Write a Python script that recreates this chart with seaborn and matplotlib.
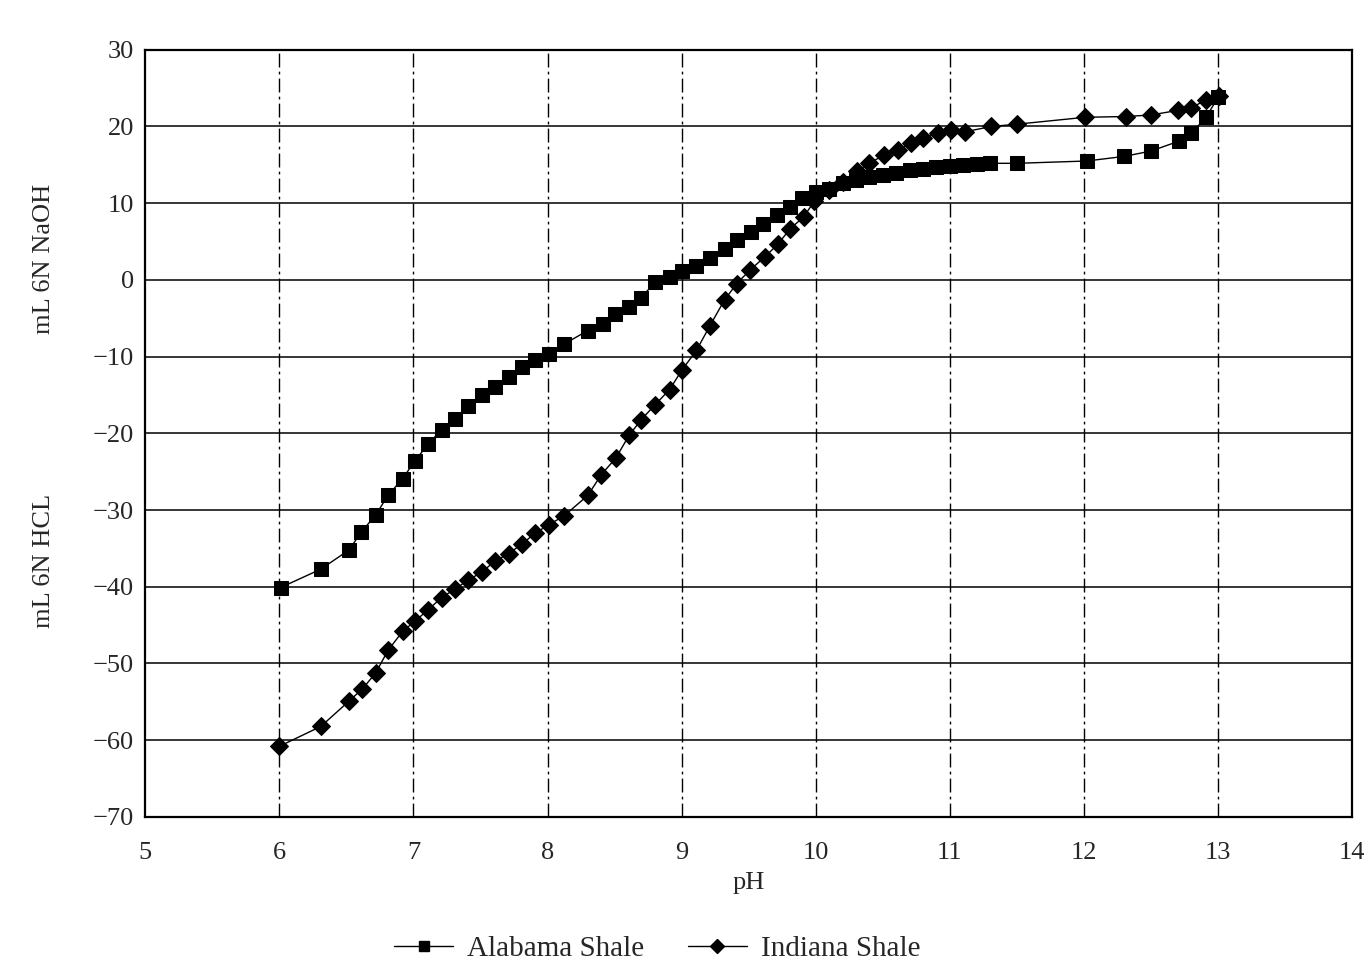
import matplotlib
matplotlib.use("Agg")
import matplotlib.pyplot as plt
import seaborn as sns
import pandas as pd
from matplotlib.lines import Line2D

sns.set_style("white")
plt.rcParams['font.family'] = ['Liberation Serif', 'DejaVu Serif']
plt.rcParams['axes.unicode_minus'] = True

# Alabama Shale titration (pH vs mL)
alabama_ph = [6.01, 6.31, 6.52, 6.61, 6.72, 6.81, 6.92, 7.01, 7.11, 7.21, 7.31,
              7.41, 7.51, 7.61, 7.71, 7.81, 7.91, 8.01, 8.12, 8.30, 8.41, 8.50,
              8.61, 8.70, 8.80, 8.91, 9.00, 9.11, 9.21, 9.32, 9.41, 9.52, 9.61,
              9.71, 9.81, 9.90, 10.00, 10.10, 10.20, 10.30, 10.40, 10.50, 10.60,
              10.70, 10.80, 10.90, 11.00, 11.10, 11.20, 11.30, 11.50, 12.02,
              12.30, 12.50, 12.71, 12.80, 12.91, 13.00]
alabama_ml = [-40.1, -37.7, -35.2, -32.9, -30.6, -28.1, -25.9, -23.6, -21.4, -19.5,
              -18.1, -16.4, -15.0, -13.9, -12.6, -11.3, -10.5, -9.7, -8.4, -6.6,
              -5.7, -4.4, -3.5, -2.3, -0.3, 0.4, 1.1, 1.8, 2.9, 4.0, 5.2, 6.2, 7.3,
              8.5, 9.5, 10.7, 11.4, 11.9, 12.6, 13.0, 13.4, 13.7, 14.0, 14.3, 14.5,
              14.7, 14.85, 15.0, 15.1, 15.2, 15.2, 15.5, 16.1, 16.8, 18.1, 19.1,
              21.2, 23.8]

# Indiana Shale titration
indiana_ph = [6.00, 6.31, 6.52, 6.62, 6.72, 6.81, 6.92, 7.01, 7.11, 7.21, 7.31,
              7.41, 7.51, 7.61, 7.71, 7.81, 7.91, 8.01, 8.12, 8.30, 8.40, 8.51,
              8.61, 8.70, 8.80, 8.91, 9.00, 9.11, 9.21, 9.32, 9.41, 9.51, 9.62,
              9.72, 9.81, 9.91, 9.99, 10.10, 10.20, 10.31, 10.40, 10.51, 10.61,
              10.71, 10.80, 10.91, 11.01, 11.11, 11.31, 11.50, 12.01, 12.31,
              12.50, 12.70, 12.80, 12.91, 13.01]
indiana_ml = [-60.8, -58.2, -54.9, -53.3, -51.2, -48.3, -45.8, -44.5, -43.0, -41.4,
              -40.3, -39.1, -38.1, -36.6, -35.7, -34.4, -33.0, -31.9, -30.8, -28.1,
              -25.4, -23.2, -20.2, -18.2, -16.3, -14.3, -11.8, -9.2, -6.0, -2.6,
              -0.5, 1.3, 3.0, 4.7, 6.7, 8.2, 10.3, 11.7, 12.8, 14.2, 15.2, 16.3,
              17.0, 17.8, 18.5, 19.1, 19.5, 19.3, 20.0, 20.3, 21.2, 21.3, 21.5,
              22.1, 22.4, 23.5, 24.0]

x_ticks = [5, 6, 7, 8, 9, 10, 11, 12, 13, 14]
y_ticks = [-70, -60, -50, -40, -30, -20, -10, 0, 10, 20, 30]

series_names = ["Alabama Shale", "Indiana Shale"]

df_a = pd.DataFrame({"pH": alabama_ph, "mL": alabama_ml, "series": series_names[0]})
df_i = pd.DataFrame({"pH": indiana_ph, "mL": indiana_ml, "series": series_names[1]})

fig = plt.figure(figsize=(13.7, 9.76), dpi=100)
ax = fig.add_axes([0.106, 0.163, 0.881, 0.786])

sns.lineplot(data=df_a, x="pH", y="mL", ax=ax, sort=False, estimator=None,
             color="black", lw=1.0, marker="s", markersize=10,
             markeredgecolor="black", markerfacecolor="black")
sns.lineplot(data=df_i, x="pH", y="mL", ax=ax, sort=False, estimator=None,
             color="black", lw=1.0, marker="D", markersize=9,
             markeredgecolor="black", markerfacecolor="black")

ax.set_xlim(5, 14)
ax.set_ylim(-70, 30)
ax.set_xticks(x_ticks)
ax.set_yticks(y_ticks)
ax.set_xticklabels([str(v) for v in x_ticks], fontsize=19)
ax.set_yticklabels([str(v).replace("-", "\u2212") for v in y_ticks], fontsize=19)
ax.tick_params(axis="both", length=0)
ax.tick_params(axis="x", pad=18)
ax.tick_params(axis="y", pad=8)

for v in y_ticks[1:-1]:
    ax.axhline(v, color="black", lw=1.1, zorder=0)
for v in x_ticks[1:-1]:
    ax.axvline(v, color="black", lw=1.0, ls=(0, (10, 3, 2, 3)), zorder=0)

for s in ax.spines.values():
    s.set_color("black")
    s.set_linewidth(1.6)

ax.set_xlabel("pH", fontsize=19, labelpad=6)
ax.set_ylabel("")
if ax.get_legend():
    ax.get_legend().remove()

fig.text(0.032, 0.735, "mL 6N NaOH", rotation=90, ha="center", va="center", fontsize=19)
fig.text(0.032, 0.425, "mL 6N HCL", rotation=90, ha="center", va="center", fontsize=19)

handles = [Line2D([0], [0], color="black", lw=1.0, marker="s", markersize=7),
           Line2D([0], [0], color="black", lw=1.0, marker="D", markersize=7)]
fig.legend(handles, series_names, loc="center", bbox_to_anchor=(0.48, 0.028),
           ncol=2, frameon=False, fontsize=21, handlelength=2.0,
           columnspacing=1.5, handletextpad=0.5)

fig.savefig("out.png", dpi=100)
